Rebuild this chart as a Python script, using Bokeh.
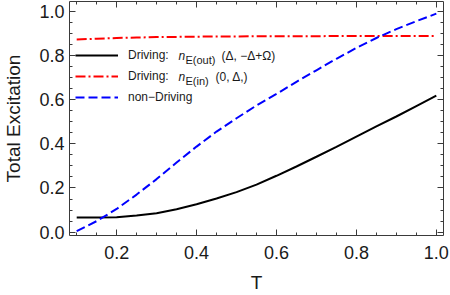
from bokeh.plotting import figure
from bokeh.models import (Range1d, LinearAxis, Legend, LegendItem, Label,
                          SingleIntervalTicker, PrintfTickFormatter)
from bokeh.embed import file_html
from bokeh.resources import INLINE

# ---- data ----
T = [0.10, 0.15, 0.20, 0.25, 0.30, 0.35, 0.40, 0.45, 0.50, 0.55,
     0.60, 0.65, 0.70, 0.75, 0.80, 0.85, 0.90, 0.95, 1.00]
driving_out = [0.066, 0.066, 0.068, 0.075, 0.086, 0.104, 0.126, 0.152, 0.181, 0.215,
               0.255, 0.297, 0.341, 0.386, 0.432, 0.478, 0.523, 0.570, 0.617]
driving_in = [0.871, 0.875, 0.878, 0.880, 0.882, 0.883, 0.884, 0.885, 0.885, 0.886,
              0.886, 0.886, 0.886, 0.887, 0.887, 0.887, 0.887, 0.887, 0.887]
non_driving = [0.005, 0.050, 0.105, 0.170, 0.240, 0.315, 0.387, 0.455, 0.515, 0.573,
               0.625, 0.680, 0.732, 0.784, 0.833, 0.878, 0.918, 0.954, 0.988]

x_label = "T"
y_label = "Total Excitation"
legend_prefix = ["Driving:", "Driving:", "non\u2212Driving"]

FONT = "Liberation Sans"
FRAME = "#3a3a3a"
TXT = "#1a1a1a"

p = figure(width=450, height=295, output_backend="svg", toolbar_location=None,
           x_range=Range1d(0.082, 1.018), y_range=Range1d(-0.015, 1.043),
           min_border_left=61, min_border_right=7, min_border_top=1, min_border_bottom=59)
p.outline_line_color = None
p.xgrid.visible = False
p.ygrid.visible = False
p.background_fill_color = "white"
p.border_fill_color = "white"


def style_axis(ax, labels=True):
    ax.ticker = SingleIntervalTicker(interval=0.2, num_minor_ticks=4)
    ax.axis_line_color = FRAME
    ax.axis_line_width = 1
    ax.major_tick_line_color = FRAME
    ax.minor_tick_line_color = FRAME
    ax.major_tick_in = 6
    ax.major_tick_out = 0
    ax.minor_tick_in = 3
    ax.minor_tick_out = 0
    if labels:
        ax.formatter = PrintfTickFormatter(format="%.1f")
        ax.major_label_text_font = FONT
        ax.major_label_text_font_size = "18px"
        ax.major_label_text_color = TXT
        ax.axis_label_text_font = FONT
        ax.axis_label_text_font_size = "19px"
        ax.axis_label_text_font_style = "normal"
        ax.axis_label_text_color = TXT
    else:
        ax.major_label_text_color = None
        ax.major_label_text_font_size = "1px"
        ax.major_label_standoff = 0
        ax.axis_label_standoff = 0
        ax.axis_label = None


style_axis(p.xaxis[0])
style_axis(p.yaxis[0])
p.xaxis[0].axis_label = x_label
p.yaxis[0].axis_label = y_label
p.xaxis[0].major_label_standoff = 10
p.xaxis[0].axis_label_standoff = 10
p.yaxis[0].major_label_standoff = 5
p.yaxis[0].axis_label_standoff = 12

top_ax = LinearAxis()
right_ax = LinearAxis()
style_axis(top_ax, labels=False)
style_axis(right_ax, labels=False)
p.add_layout(top_ax, "above")
p.add_layout(right_ax, "right")

r1 = p.line(T, driving_out, line_color="black", line_width=2)
r2 = p.line(T, driving_in, line_color="#ff0000", line_width=2, line_dash="10 3 2 3")
r3 = p.line(T, non_driving, line_color="#0000ff", line_width=2, line_dash="9 4")

legend = Legend(items=[LegendItem(label=legend_prefix[0], renderers=[r1]),
                       LegendItem(label=legend_prefix[1], renderers=[r2]),
                       LegendItem(label=legend_prefix[2], renderers=[r3])],
                location=(6, 128), border_line_color=None, background_fill_alpha=0,
                padding=0, margin=0, spacing=1, glyph_width=43, glyph_height=20,
                label_height=20, label_standoff=10, label_text_font=FONT,
                label_text_font_size="12px", label_text_color=TXT)
p.add_layout(legend)

# math parts of the legend labels (screen units, relative to the plot frame)
math_parts = [
    ("n", 109, 179.5, "12px", "italic"),
    ("E(out)", 116, 176.0, "11px", "normal"),
    ("(\u0394, \u2212\u0394+\u03a9)", 152, 179.5, "12px", "normal"),
    ("n", 109, 158.5, "12px", "italic"),
    ("E(in)", 116, 155.0, "11px", "normal"),
    ("(0, \u0394,)", 146, 158.5, "12px", "normal"),
]
for txt, sx, sy, fs, st in math_parts:
    p.add_layout(Label(x=sx, y=sy, x_units="screen", y_units="screen", text=txt,
                       text_font=FONT, text_font_size=fs, text_font_style=st,
                       text_color=TXT, text_baseline="alphabetic", text_align="left"))

open("out.html", "w").write(file_html(p, INLINE))
